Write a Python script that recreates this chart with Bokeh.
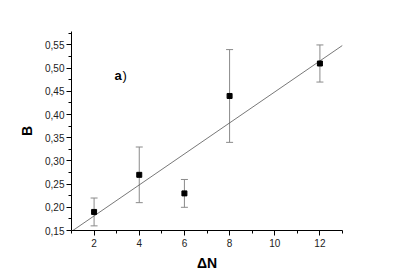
from bokeh.plotting import figure
from bokeh.models import ColumnDataSource, Whisker, TeeHead, FixedTicker, CustomJSTickFormatter, Range1d
from bokeh.core.properties import value
from bokeh.embed import file_html
from bokeh.resources import INLINE

# data
dn = [2, 4, 6, 8, 12]
b = [0.19, 0.27, 0.23, 0.44, 0.51]
b_low = [0.16, 0.21, 0.20, 0.34, 0.47]
b_high = [0.22, 0.33, 0.26, 0.54, 0.55]
fit_x = [1, 13]
fit_y = [0.148, 0.549]
x_ticks = [2, 4, 6, 8, 10, 12]
x_minor = [1, 3, 5, 7, 9, 11, 13]
y_ticks = [0.15, 0.20, 0.25, 0.30, 0.35, 0.40, 0.45, 0.50, 0.55]
y_minor = [0.175, 0.225, 0.275, 0.325, 0.375, 0.425, 0.475, 0.525, 0.575]

p = figure(width=384, height=275, output_backend="svg", toolbar_location=None,
           x_range=Range1d(1, 13), y_range=Range1d(0.15, 0.579),
           min_border_left=71, min_border_right=42, min_border_top=31, min_border_bottom=45)
p.outline_line_color = None
p.xgrid.visible = False
p.ygrid.visible = False
p.background_fill_color = "white"
p.border_fill_color = "white"

src = ColumnDataSource(dict(x=dn, y=b, lo=b_low, hi=b_high))

p.line(fit_x, fit_y, line_color="#555555", line_width=0.8)
w = Whisker(source=src, base="x", lower="lo", upper="hi", line_color="#8a8a8a", line_width=1,
            upper_head=TeeHead(size=7, line_color="#8a8a8a", line_width=1),
            lower_head=TeeHead(size=7, line_color="#8a8a8a", line_width=1))
p.add_layout(w)
p.scatter("x", "y", source=src, marker="square", size=5, fill_color="black", line_color="black")

p.text(x=[2.9], y=[0.484], text=["a"], text_font_size="13px", text_font_style="bold",
       text_baseline="middle", text_align="left", text_font=value("Liberation Sans"))
p.text(x=[3.26], y=[0.484], text=[")"], text_font_size="13px",
       text_baseline="middle", text_align="left", text_font=value("Liberation Sans"))

for ax, ticks, minor in ((p.xaxis[0], x_ticks, x_minor), (p.yaxis[0], y_ticks, y_minor)):
    ax.ticker = FixedTicker(ticks=ticks, minor_ticks=minor)
    ax.major_tick_out = 5
    ax.major_tick_in = 0
    ax.minor_tick_out = 3
    ax.minor_tick_in = 0
    ax.axis_line_color = "black"
    ax.major_tick_line_color = "black"
    ax.minor_tick_line_color = "black"
    ax.major_label_text_font = "Liberation Sans"
    ax.major_label_text_font_size = "10px"
    ax.major_label_text_color = "#222222"
    ax.axis_label_text_font = "Liberation Sans"
    ax.axis_label_text_font_style = "bold"
    ax.axis_label_text_font_size = "14px"
    ax.axis_label_text_color = "black"

p.yaxis[0].formatter = CustomJSTickFormatter(code="return tick.toFixed(2).replace('.', ',');")
p.xaxis[0].axis_label = "ΔN"
p.yaxis[0].axis_label = "B"
p.xaxis[0].axis_label_standoff = 5
p.yaxis[0].axis_label_standoff = 7
p.xaxis[0].major_label_standoff = 3
p.yaxis[0].major_label_standoff = 2

open("out.html", "w").write(file_html(p, INLINE))
